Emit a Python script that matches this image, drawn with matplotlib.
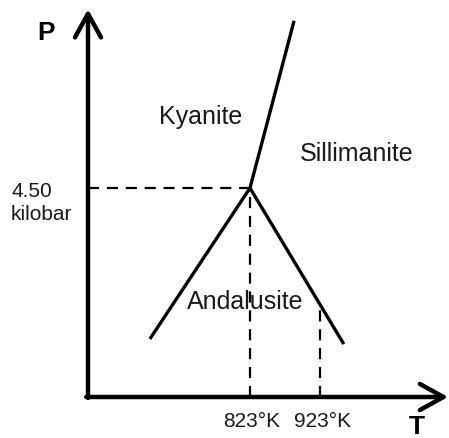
import numpy as np
import matplotlib.pyplot as plt

plt.rcParams['font.family'] = ['Liberation Sans', 'DejaVu Sans']

# triple point and phase boundaries (T in K, P in kbar)
T_triple, P_triple = 823, 4.50
T_ky_sil, P_ky_sil = [823, 886], [4.50, 8.10]      # kyanite / sillimanite
T_ky_and, P_ky_and = [823, 680], [4.50, 1.25]      # kyanite / andalusite
T_and_sil, P_and_sil = [823, 957], [4.50, 1.14]    # andalusite / sillimanite
T_marks = [823, 923]
T_labels = ['823°K', '923°K']
P_label = '4.50\nkilobar'

phase_names = ['Kyanite', 'Sillimanite', 'Andalusite']
phase_T = [752, 975, 816]
phase_P = [6.05, 5.25, 2.07]

# axis frame (schematic)
T0, P0 = 591.6, 0.0
T_tip, P_tip = 1106, 8.35

# pixel scale used to lay out the figure: 0.7 px per K, 46.44 px per kbar
px_T, px_P = 0.7, 46.44
ax_x0, ax_y0 = 88, 398

fig = plt.figure(figsize=(4.49, 4.39), dpi=100)
ax = fig.add_axes([0, 0, 1, 1])
ax.set_xlim(T0 - ax_x0 / px_T, T0 + (449 - ax_x0) / px_T)
ax.set_ylim(P0 - (439 - ax_y0) / px_P, P0 + ax_y0 / px_P)
ax.axis('off')

# axes with open arrow heads
arrow = dict(arrowstyle='->,head_length=0.85,head_width=0.47', lw=3.2,
             color='black', shrinkA=0, shrinkB=0, mutation_scale=20)
ax.annotate('', xy=(T0, P_tip), xytext=(T0, P0 - 0.02), arrowprops=arrow)
ax.annotate('', xy=(T_tip, P0), xytext=(T0 - 2.5, P0), arrowprops=arrow)

# phase boundaries
for tt, pp in [(T_ky_sil, P_ky_sil), (T_ky_and, P_ky_and), (T_and_sil, P_and_sil)]:
    ax.plot(tt, pp, color='black', lw=2.4, solid_capstyle='butt')

# dashed guides
dash = dict(color='black', lw=1.6, linestyle=(0, (5, 3.5)))
ax.plot([T0, T_triple], [P_triple, P_triple], **dash)
ax.plot([T_triple, T_triple], [P0, P_triple], **dash)
P_923 = np.interp(T_marks[1], T_and_sil, P_and_sil)
ax.plot([T_marks[1], T_marks[1]], [P0, P_923], **dash)

# labels
for name, t, p in zip(phase_names, phase_T, phase_P):
    ax.text(t, p, name, fontsize=18, ha='center', va='center', color='#1a1a1a')
for t, lab in zip(T_marks, T_labels):
    ax.text(t + 3, -0.5, lab, fontsize=15, ha='center', va='center', color='#1a1a1a')
ax.text(T0 - 110, P_triple - 0.3, P_label, fontsize=15, ha='left', va='center',
        linespacing=1.3, color='#1a1a1a')
ax.text(T0 - 60, 7.85, 'P', fontsize=19, fontweight='bold', ha='center', va='center')
ax.text(T0 + 470, -0.62, 'T', fontsize=19, fontweight='bold', ha='center', va='center')

fig.savefig('out.png', dpi=100)
